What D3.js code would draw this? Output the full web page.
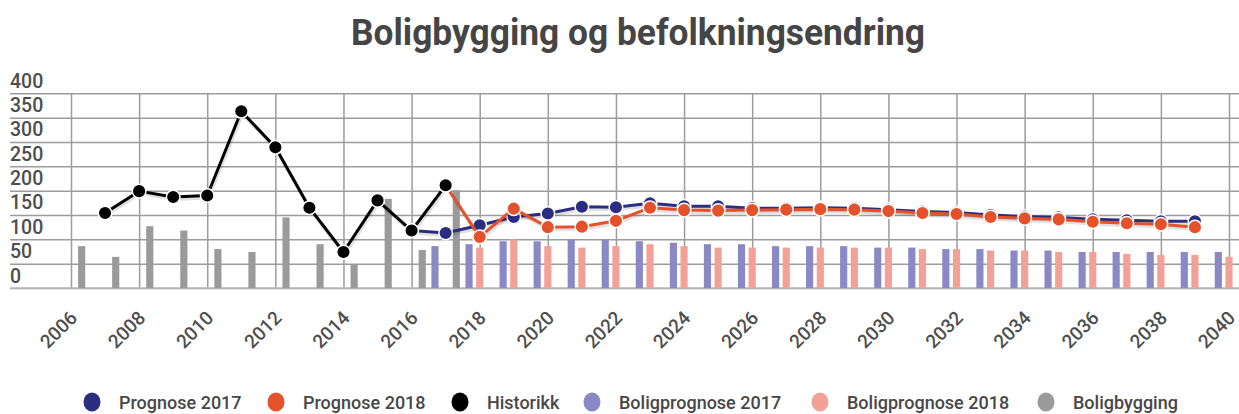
<!DOCTYPE html>
<html><head><meta charset="utf-8">
<script src="https://cdn.jsdelivr.net/npm/d3@7"></script>
<style>body{margin:0;background:#fff}svg{display:block;font-family:Roboto,"Noto Sans",sans-serif}</style>
</head><body><svg id="c" width="1239" height="414"></svg>
<script>
const title = "Boligbygging og befolkningsendring";
const yTicks = [0,50,100,150,200,250,300,350,400];
const xTicks = d3.range(2006, 2041, 2);

const historikkYears = d3.range(2007, 2018);
const historikk = [154,199,187,190,363,289,165,74,180,118,211];

const prognose2017Years = d3.range(2016, 2040);
const prognose2017 = [118,113,129,146,153,167,166,174,168,168,164,164,165,164,161,157,155,150,147,145,141,139,137,137];

const prognose2018Years = d3.range(2017, 2040);
const prognose2018 = [211,105,163,125,126,138,165,160,159,160,161,162,161,158,154,152,146,143,141,136,133,131,125];

const boligbyggingYears = d3.range(2006, 2018);
const boligbygging = [86,64,127,118,80,74,145,90,49,183,78,201];

const boligprognose2017Years = d3.range(2017, 2041);
const boligprognose2017 = [86,90,96,96,100,100,96,93,90,90,86,86,86,83,83,80,80,77,77,74,74,74,74,74];

const boligprognose2018Years = d3.range(2018, 2041);
const boligprognose2018 = [83,100,86,83,86,90,86,83,83,83,83,83,83,80,80,77,77,74,74,70,68,68,64];

const legendNames = ["Prognose 2017","Prognose 2018","Historikk","Boligprognose 2017","Boligprognose 2018","Boligbygging"];
const colors = {"Prognose 2017":"#2b2e80","Prognose 2018":"#e5512a","Historikk":"#000000",
  "Boligprognose 2017":"#8a88c5","Boligprognose 2018":"#f3a197","Boligbygging":"#9a9a9a"};

const svg = d3.select("#c");
const x = d3.scaleLinear().domain([2006, 2040]).range([71, 1229]);
const y = d3.scaleLinear().domain([0, 400]).range([288, 93.3]);
const group = d3.scaleBand().domain(["Boligprognose 2017","Boligprognose 2018","Boligbygging"])
  .range([-16, 16]).paddingInner(0.33).paddingOuter(0.165);

// title
svg.append("text").attr("x", 638).attr("y", 45).attr("text-anchor","middle")
  .attr("font-size", 37).attr("font-weight", 700).attr("fill", "#454545")
  .attr("textLength", 574).attr("lengthAdjust","spacingAndGlyphs").text(title);

// y grid + labels
const yAxis = svg.append("g").attr("transform","translate(10,0)")
  .call(d3.axisRight(y).tickValues(yTicks).tickSize(1229).tickFormat(d3.format("d")));
yAxis.select(".domain").remove();
yAxis.selectAll(".tick line").attr("stroke","#9c9c9c").attr("stroke-width",1.5);
yAxis.selectAll(".tick text").attr("x",0).attr("dy",null).attr("y",-6)
  .attr("text-anchor","start").attr("font-size",19.5).attr("font-weight",500).attr("fill","#4e4e4e")
  .attr("font-family","Roboto, sans-serif");

// x grid + labels
const xAxis = svg.append("g").attr("transform","translate(0,288)")
  .call(d3.axisBottom(x).tickValues(xTicks).tickSize(-(288-93.3)).tickFormat(d3.format("d")));
xAxis.select(".domain").remove();
xAxis.selectAll(".tick line").attr("stroke","#9c9c9c").attr("stroke-width",1.5);
xAxis.selectAll(".tick text").attr("y",null).attr("dy",null)
  .attr("text-anchor","end").attr("font-size",19).attr("font-weight",500).attr("fill","#4e4e4e")
  .attr("font-family","Roboto, sans-serif")
  .attr("transform","translate(7,31) rotate(-45)");

// bottom axis line
svg.append("line").attr("x1",10).attr("x2",1239).attr("y1",y(0)).attr("y2",y(0))
  .attr("stroke","#bdbdbd").attr("stroke-width",1.5);

// bars
function bars(name, years, vals){
  svg.append("g").selectAll("rect").data(vals).join("rect")
    .attr("x",(d,i)=>x(years[i]) + group(name))
    .attr("width", group.bandwidth())
    .attr("y", d=>y(d)).attr("height", d=>y(0)-y(d))
    .attr("fill", colors[name]);
}
bars("Boligprognose 2017", boligprognose2017Years, boligprognose2017);
bars("Boligprognose 2018", boligprognose2018Years, boligprognose2018);
bars("Boligbygging", boligbyggingYears, boligbygging);

// lines
function series(name, years, vals){
  const pts = vals.map((v,i)=>[years[i], v]);
  const line = d3.line().x(d=>x(d[0])).y(d=>y(d[1]));
  svg.append("path").datum(pts).attr("d", line)
    .attr("fill","none").attr("stroke","rgba(0,0,0,0.12)").attr("stroke-width",4)
    .attr("transform","translate(1,2)");
  svg.append("path").datum(pts).attr("d", line)
    .attr("fill","none").attr("stroke",colors[name]).attr("stroke-width",3)
    .attr("stroke-linejoin","round");
  svg.append("g").selectAll("circle").data(pts).join("circle")
    .attr("cx",d=>x(d[0])).attr("cy",d=>y(d[1])).attr("r",6.8)
    .attr("fill",colors[name]).attr("stroke","#fff").attr("stroke-width",1.5);
}
series("Prognose 2017", prognose2017Years, prognose2017);
series("Prognose 2018", prognose2018Years, prognose2018);
series("Historikk", historikkYears, historikk);

// legend
const legendX = [92, 276, 460, 592, 820, 1046];
const lg = svg.append("g").selectAll("g").data(legendNames).join("g")
  .attr("transform",(d,i)=>`translate(${legendX[i]},402)`);
lg.append("ellipse").attr("rx",8.5).attr("ry",9.5).attr("fill",d=>colors[d]);
lg.append("text").attr("x",27).attr("y",6.5).attr("font-size",18).attr("font-weight",500).attr("fill","#474747")
  .text(d=>d);
</script></body></html>
